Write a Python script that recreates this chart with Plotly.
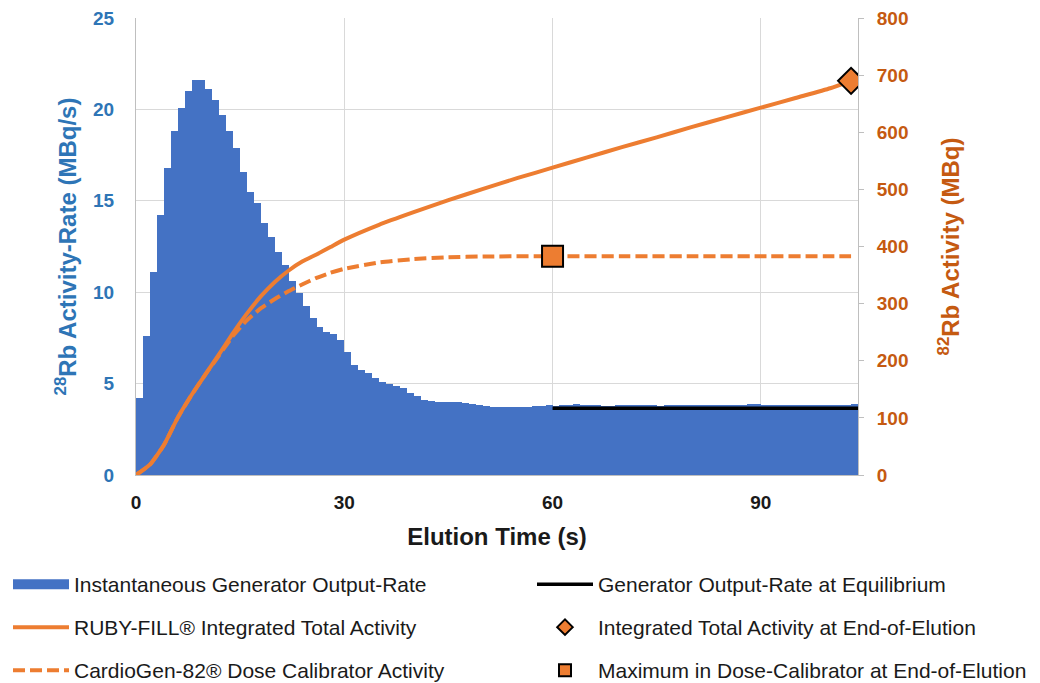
import plotly.graph_objects as go

# ---- data ----
bar_times = list(range(104))  # seconds (bar start)
output_rate = [4.2, 7.6, 11.1, 14.2, 16.8, 18.8, 20.1, 21.0, 21.6, 21.6,
               21.1, 20.5, 19.7, 18.8, 17.9, 16.6, 15.5, 14.9, 13.8, 13.0,
               12.2, 11.5, 10.6, 9.95, 9.25, 8.6, 8.1, 7.8, 7.7, 7.4,
               6.75, 6.0, 5.75, 5.6, 5.3, 5.1, 5.0, 4.85, 4.75, 4.5,
               4.3, 4.1, 4.05, 4.0, 4.0, 3.97, 3.97, 3.95, 3.9, 3.85,
               3.75, 3.74, 3.74, 3.74, 3.74, 3.74, 3.74, 3.78, 3.8, 3.82,
               3.78, 3.82, 3.84, 3.88, 3.84, 3.83, 3.83, 3.8, 3.8, 3.82,
               3.83, 3.82, 3.83, 3.83, 3.82, 3.8, 3.82, 3.83, 3.83, 3.82,
               3.83, 3.83, 3.82, 3.84, 3.83, 3.82, 3.83, 3.85, 3.88, 3.87,
               3.84, 3.83, 3.82, 3.83, 3.84, 3.83, 3.82, 3.83, 3.84, 3.83,
               3.84, 3.85, 3.84, 3.86]

equil_times = [60, 104]
equil_rate = [3.65, 3.65]

total_times = [0, 2, 4, 6, 8, 10, 12, 14, 16, 18, 20, 22, 24, 26, 28, 30, 35, 40,
               45, 50, 55, 60, 65, 70, 75, 80, 85, 90, 95, 100, 103]
total_activity = [0, 18, 52, 100, 140, 176, 212, 249, 283, 313, 338, 358, 374, 386,
                  399, 412, 438, 460, 481, 501, 520, 538, 556, 574, 591, 609, 626,
                  643, 660, 677, 690]

dose_times = [0, 2, 4, 6, 8, 10, 12, 14, 16, 18, 20, 22, 24, 26, 28, 30, 35, 40,
              45, 50, 60, 70, 80, 90, 100, 103]
dose_activity = [0, 18, 52, 100, 140, 176, 210, 244, 271, 292, 308, 322, 334, 345,
                 354, 361, 372, 378, 381, 382.5, 383, 383, 383, 383, 383, 383]

end_time = [103]
end_total = [690]
max_time = [60]
max_dose = [383]

x_ticks = [0, 30, 60, 90]

BLUE = "#4472C4"
ORANGE = "#ED7D31"
LBLUE = "#2E75B6"
DORANGE = "#C55A11"
TXT = "#1A1A1A"
GRID = "#D9D9D9"
AXL = "#BFBFBF"
FONT = "Liberation Sans, Arial, sans-serif"

# page body has an 8px default margin, so the figure is 8px smaller
W, H = 1032, 675

fig = go.Figure()

fig.add_trace(go.Bar(x=bar_times, y=output_rate, width=1, offset=0,
                     marker=dict(color=BLUE, line=dict(width=0)),
                     showlegend=False, name="rate"))
# legend proxy for bars
fig.add_trace(go.Scatter(x=[None], y=[None], mode="lines",
                         line=dict(color=BLUE, width=12),
                         name="Instantaneous Generator Output-Rate",
                         legend="legend"))
fig.add_trace(go.Scatter(x=equil_times, y=equil_rate, mode="lines",
                         line=dict(color="black", width=3.5),
                         name="Generator Output-Rate at Equilibrium",
                         legend="legend2"))
fig.add_trace(go.Scatter(x=total_times, y=total_activity, yaxis="y2", mode="lines",
                         line=dict(color=ORANGE, width=4, shape="spline", smoothing=0.5),
                         name="RUBY-FILL® Integrated Total Activity",
                         legend="legend3"))
fig.add_trace(go.Scatter(x=dose_times, y=dose_activity, yaxis="y2", mode="lines",
                         line=dict(color=ORANGE, width=4, dash="12px,5px",
                                   shape="spline", smoothing=0.5),
                         name="CardioGen-82® Dose Calibrator Activity",
                         legend="legend5"))
fig.add_trace(go.Scatter(x=end_time, y=end_total, yaxis="y2", mode="markers",
                         marker=dict(symbol="diamond", size=20, color=ORANGE,
                                     line=dict(color="black", width=2)),
                         name="Integrated Total Activity at End-of-Elution",
                         legend="legend4"))
fig.add_trace(go.Scatter(x=max_time, y=max_dose, yaxis="y2", mode="markers",
                         marker=dict(symbol="square", size=21, color=ORANGE,
                                     line=dict(color="black", width=2)),
                         name="Maximum in Dose-Calibrator at End-of-Elution",
                         legend="legend6"))

row_tops = [556, 599, 642]
col_left = [-1, 524]


def leg(col, row, sizing):
    return dict(xref="container", yref="container", x=col_left[col] / W,
                y=1 - row_tops[row] / H, xanchor="left", yanchor="top",
                orientation="h", font=dict(size=21, color=TXT), itemwidth=56,
                itemsizing=sizing, bgcolor="rgba(0,0,0,0)")


fig.update_layout(
    width=W, height=H,
    margin=dict(l=128, r=182, t=10, b=208),
    plot_bgcolor="white", paper_bgcolor="white",
    font=dict(family=FONT, color=TXT),
    bargap=0,
    xaxis=dict(range=[0, 104], tickvals=x_ticks, showgrid=True, gridcolor=GRID,
               gridwidth=1.3, showline=True, linecolor=AXL, zeroline=False,
               ticks="", ticklabelstandoff=10,
               tickfont=dict(size=19, color=TXT, weight="bold"),
               title=dict(text="Elution Time (s)", standoff=16,
                          font=dict(size=24, color=TXT, weight="bold"))),
    yaxis=dict(range=[0, 25], dtick=5, showgrid=True, gridcolor=GRID, gridwidth=1.3,
               showline=True, linecolor=AXL, zeroline=False, ticks="",
               automargin=False,
               ticklabelstandoff=17, ticklabeloverflow="allow",
               tickfont=dict(size=19, color=LBLUE, weight="bold"),
               title=dict(text="<sup>28</sup>Rb Activity-Rate (MBq/s)", standoff=9,
                          font=dict(size=24, color=LBLUE, weight="bold"))),
    yaxis2=dict(range=[0, 800], dtick=100, overlaying="y", side="right",
                showgrid=False, showline=True, linecolor=AXL, zeroline=False,
                ticks="outside", ticklen=5, tickcolor=AXL, ticklabelstandoff=9,
                ticklabeloverflow="allow", automargin=False,
                tickfont=dict(size=19, color=DORANGE, weight="bold"),
                title=dict(text="<sup>82</sup>Rb Activity (MBq)", standoff=34,
                           font=dict(size=24, color=DORANGE, weight="bold"))),
    legend=leg(0, 0, "trace"),
    legend2=leg(1, 0, "trace"),
    legend3=leg(0, 1, "trace"),
    legend4=leg(1, 1, "constant"),
    legend5=leg(0, 2, "trace"),
    legend6=leg(1, 2, "constant"),
)

fig.write_html("out.html")
